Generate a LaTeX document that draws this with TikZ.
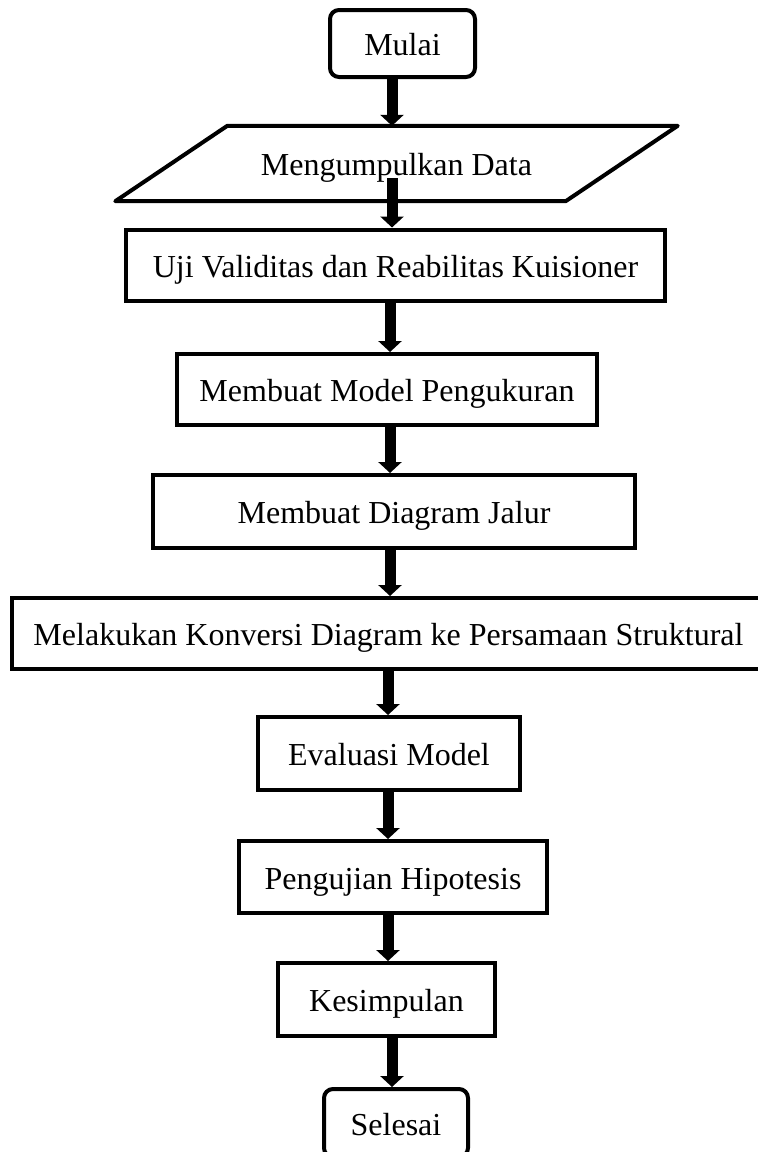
\documentclass[tikz,border=0pt]{standalone}
\usepackage{fontspec}
\setmainfont{Liberation Serif}
\usetikzlibrary{arrows.meta,calc}
\begin{document}
\begin{tikzpicture}[x=1pt,y=-1pt,
  every node/.style={font=\fontsize{32}{36}\selectfont, inner sep=0pt, text height=24pt, text depth=0pt},
  procbox/.style={draw, line width=4pt, rectangle},
  termbox/.style={draw, line width=4pt, rectangle, rounded corners=9pt},
  arr/.style={line width=11pt, -{Triangle[width=23pt,length=11pt]}}]
\useasboundingbox (0,0) rectangle (758,1152);
\coordinate (axis) at (392,0);
\coordinate (axism) at (390,0);
\coordinate (axisb) at (388,0);
\node[termbox, minimum width=145pt, minimum height=67pt] (mulai) at (402.5,43.5) {Mulai};
\node[minimum width=450pt, minimum height=75pt] (data) at (396.5,163.5) {Mengumpulkan Data};
\draw[line width=4pt, line join=round]
  ([xshift=-56pt]data.south west) -- ([xshift=56pt]data.north west) --
  ([xshift=56pt]data.north east) -- ([xshift=-56pt]data.south east) -- cycle;
\node[procbox, minimum width=539pt, minimum height=71pt] (uji) at (395.5,265) {Uji Validitas dan Reabilitas Kuisioner};
\node[procbox, minimum width=420pt, minimum height=71pt] (model) at (387,389.5) {Membuat Model Pengukuran};
\node[procbox, minimum width=482pt, minimum height=73pt] (jalur) at (394,511.5) {Membuat Diagram Jalur};
\node[procbox, minimum width=753pt, minimum height=71pt] (konv) at (388.5,633.5) {Melakukan Konversi Diagram ke Persamaan Struktural};
\node[procbox, minimum width=262pt, minimum height=73pt] (eval) at (389,753.5) {Evaluasi Model};
\node[procbox, minimum width=308pt, minimum height=72pt] (hipo) at (393,877) {Pengujian Hipotesis};
\node[procbox, minimum width=217pt, minimum height=73pt] (kes) at (386.5,999.5) {Kesimpulan};
\node[termbox, minimum width=144pt, minimum height=68pt] (selesai) at (396,1123) {Selesai};
\draw[arr] (axis |- mulai.south) -- (axis |- data.north);
\draw[arr] ($(axis |- data.south)+(0,-23)$) -- (axis |- uji.north);
\draw[arr] (axism |- uji.south) -- (axism |- model.north);
\draw[arr] (axism |- model.south) -- (axism |- jalur.north);
\draw[arr] (axism |- jalur.south) -- (axism |- konv.north);
\draw[arr] (axisb |- konv.south) -- (axisb |- eval.north);
\draw[arr] (axisb |- eval.south) -- (axisb |- hipo.north);
\draw[arr] (axisb |- hipo.south) -- (axisb |- kes.north);
\draw[arr] (axis |- kes.south) -- (axis |- selesai.north);
\end{tikzpicture}
\end{document}
